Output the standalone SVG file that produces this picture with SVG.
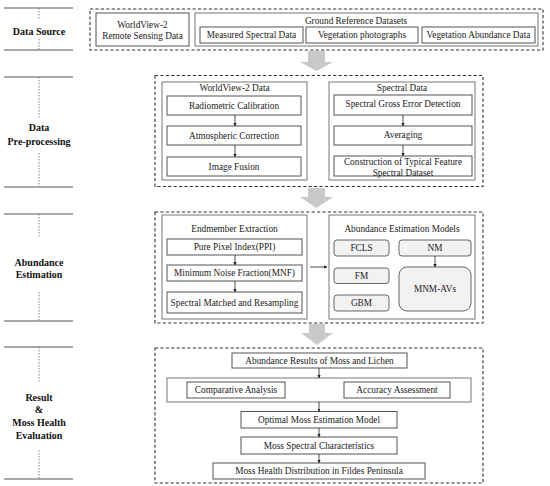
<svg xmlns="http://www.w3.org/2000/svg" width="550" height="486" viewBox="0 0 550 486">
<style>
text{font-family:"Liberation Serif","Times New Roman",serif;font-size:9.3px;fill:#222;text-anchor:middle}
.lab{font-weight:bold;font-size:10px;fill:#111}
.dash{fill:none;stroke:#333;stroke-width:1.1;stroke-dasharray:3.2,2.2}
.grp{fill:#fff;stroke:#777;stroke-width:1}
.box{fill:#fff;stroke:#555;stroke-width:1}
.rbox{fill:#f2f2f2;stroke:#666;stroke-width:1}
.hl{stroke:#555;stroke-width:1.2}
.dot{stroke:#666;stroke-width:0.8;stroke-dasharray:1.5,1.5}
.con{stroke:#222;stroke-width:0.8;fill:none;marker-end:url(#ah)}
.big{fill:#c9c9c9}
</style>
<defs>
<marker id="ah" viewBox="0 0 6 6" refX="5.5" refY="3" markerWidth="4" markerHeight="4" orient="auto">
<path d="M0,0L6,3L0,6z" fill="#222"/>
</marker>
</defs>

<g id="stages">
<g id="stage-data-source">
<line class="hl" x1="4" y1="8" x2="73" y2="8"/><line class="hl" x1="4" y1="50" x2="73" y2="50"/>
<line class="dot" x1="39" y1="8" x2="39" y2="19"/><line class="dot" x1="39" y1="39" x2="39" y2="50"/>
<text class="lab" x="39" y="34.5">Data Source</text>
</g>
<g id="stage-preprocessing">
<line class="hl" x1="4" y1="77" x2="73" y2="77"/><line class="hl" x1="4" y1="187" x2="73" y2="187"/>
<line class="dot" x1="39" y1="77" x2="39" y2="118"/><line class="dot" x1="39" y1="153" x2="39" y2="187"/>
<text class="lab" x="39" y="130.5">Data</text>
<text class="lab" x="39" y="144.5">Pre-processing</text>
</g>
<g id="stage-abundance">
<line class="hl" x1="4" y1="214" x2="73" y2="214"/><line class="hl" x1="4" y1="321" x2="73" y2="321"/>
<line class="dot" x1="39" y1="214" x2="39" y2="238"/><line class="dot" x1="39" y1="292" x2="39" y2="321"/>
<text class="lab" x="39" y="265.5">Abundance</text>
<text class="lab" x="39" y="278">Estimation</text>
</g>
<g id="stage-result">
<line class="hl" x1="4" y1="347" x2="73" y2="347"/><line class="hl" x1="4" y1="479" x2="73" y2="479"/>
<line class="dot" x1="39" y1="347" x2="39" y2="383"/><line class="dot" x1="39" y1="450" x2="39" y2="479"/>
<text class="lab" x="39" y="400.5">Result</text>
<text class="lab" x="39" y="412.5">&amp;</text>
<text class="lab" x="39" y="425.5">Moss Health</text>
<text class="lab" x="39" y="438.5">Evaluation</text>
</g>
</g>

<g id="panel-data-source">
<rect class="dash" x="90" y="9" width="453" height="41"/>
<g id="n-wv2"><rect class="box" x="96" y="13" width="93" height="33"/>
<text x="142.5" y="28.3">WorldView-2</text><text x="142.5" y="38.6">Remote Sensing Data</text></g>
<g id="n-ground"><rect class="grp" x="195" y="13" width="343" height="33"/>
<text x="356" y="24.3">Ground Reference Datasets</text></g>
<g id="n-measured"><rect class="box" x="200" y="27" width="103" height="16"/><text x="251.5" y="38.2">Measured Spectral Data</text></g>
<g id="n-photos"><rect class="box" x="306" y="27" width="112" height="16"/><text x="362" y="38.2">Vegetation photographs</text></g>
<g id="n-abund-data"><rect class="box" x="422" y="27" width="113" height="16"/><text x="478.5" y="38.2">Vegetation Abundance Data</text></g>
</g>

<g id="panel-preprocessing">
<rect class="dash" x="155" y="75.5" width="328" height="111"/>
<g id="n-wv2-data"><rect class="grp" x="162" y="82" width="145" height="98"/><text x="234.5" y="91.3">WorldView-2 Data</text></g>
<g id="n-radiometric"><rect class="box" x="167" y="96" width="134" height="19"/><text x="234" y="108.8">Radiometric Calibration</text></g>
<g id="n-atmospheric"><rect class="box" x="167" y="126" width="134" height="19"/><text x="234" y="138.8">Atmospheric Correction</text></g>
<g id="n-fusion"><rect class="box" x="167" y="157" width="134" height="19"/><text x="234" y="169.8">Image Fusion</text></g>
<g id="n-spectral-data"><rect class="grp" x="329" y="82" width="146" height="98"/><text x="402" y="91.3">Spectral Data</text></g>
<g id="n-gross"><rect class="box" x="334" y="95" width="138" height="20"/><text x="403" y="107.3">Spectral Gross Error Detection</text></g>
<g id="n-averaging"><rect class="box" x="334" y="126" width="138" height="19"/><text x="403" y="138.3">Averaging</text></g>
<g id="n-construction"><rect class="box" x="334" y="156" width="138" height="20"/><text x="403" y="165.3">Construction of Typical Feature</text><text x="403" y="176.3">Spectral Dataset</text></g>
</g>

<g id="panel-abundance">
<rect class="dash" x="155" y="212" width="328" height="111"/>
<g id="n-endmember"><rect class="grp" x="162" y="215" width="145" height="104"/><text x="234.5" y="232.3">Endmember Extraction</text></g>
<g id="n-ppi"><rect class="box" x="167" y="239" width="135" height="16"/><text x="234.5" y="250.3">Pure Pixel Index(PPI)</text></g>
<g id="n-mnf"><rect class="box" x="167" y="265" width="135" height="16"/><text x="234.5" y="276.3">Minimum Noise Fraction(MNF)</text></g>
<g id="n-matched"><rect class="box" x="167" y="292" width="135" height="21"/><text x="234.5" y="305.8">Spectral Matched and Resampling</text></g>
<g id="n-models"><rect class="grp" x="329" y="215" width="146" height="104"/><text x="402" y="232.3">Abundance Estimation Models</text></g>
<g id="n-fcls"><rect class="rbox" x="334" y="240" width="55" height="16" rx="3"/><text x="361.5" y="251.3">FCLS</text></g>
<g id="n-fm"><rect class="rbox" x="334" y="268" width="55" height="15.5" rx="3"/><text x="361.5" y="279">FM</text></g>
<g id="n-gbm"><rect class="rbox" x="334" y="295" width="55" height="16" rx="3"/><text x="361.5" y="306.3">GBM</text></g>
<g id="n-nm"><rect class="rbox" x="399" y="240" width="72" height="16" rx="3"/><text x="435" y="251.3">NM</text></g>
<g id="n-mnm"><rect class="rbox" x="399" y="267" width="72" height="44" rx="8"/><text x="435" y="292.3">MNM-AVs</text></g>
</g>

<g id="panel-result">
<rect class="dash" x="155" y="348" width="328" height="135"/>
<g id="n-results"><rect class="box" x="232" y="353" width="175" height="15"/><text x="319.5" y="363.8">Abundance Results of Moss and Lichen</text></g>
<g id="n-compare-group"><rect class="grp" x="167" y="378" width="304" height="24"/></g>
<g id="n-comparative"><rect class="box" x="187" y="382" width="98" height="16"/><text x="236" y="393.3">Comparative Analysis</text></g>
<g id="n-accuracy"><rect class="box" x="344" y="382" width="106" height="16"/><text x="397" y="393.3">Accuracy Assessment</text></g>
<g id="n-optimal"><rect class="box" x="241" y="411.5" width="156" height="16.5"/><text x="319" y="423">Optimal Moss Estimation Model</text></g>
<g id="n-moss-spectral"><rect class="box" x="241" y="437" width="156" height="17"/><text x="319" y="448.8">Moss Spectral Characteristics</text></g>
<g id="n-health"><rect class="box" x="213" y="463" width="212" height="16"/><text x="319" y="474.3">Moss Health Distribution in Fildes Peninsula</text></g>
</g>

<g id="connectors">
<path class="big" d="M308,51H325V62H333L316.5,71L300,62H308Z"/>
<path class="big" d="M308,188H325V197H333L316.5,208L300,197H308Z"/>
<path class="big" d="M309,324H325V333H333L317,345L301,333H309Z"/>
<line class="con" x1="235" y1="115" x2="235" y2="126"/>
<line class="con" x1="235" y1="145" x2="235" y2="157"/>
<line class="con" x1="403" y1="115" x2="403" y2="126"/>
<line class="con" x1="403" y1="145" x2="403" y2="156"/>
<line class="con" x1="235" y1="255" x2="235" y2="265"/>
<line class="con" x1="235" y1="281" x2="235" y2="292"/>
<line class="con" x1="310" y1="267" x2="327" y2="267"/>
<line class="con" x1="435" y1="256" x2="435" y2="267"/>
<line class="con" x1="319" y1="368" x2="319" y2="378"/>
<line class="con" x1="319" y1="402" x2="319" y2="411.5"/>
<line class="con" x1="319" y1="428" x2="319" y2="437"/>
<line class="con" x1="319" y1="454" x2="319" y2="463"/>
</g>
</svg>
